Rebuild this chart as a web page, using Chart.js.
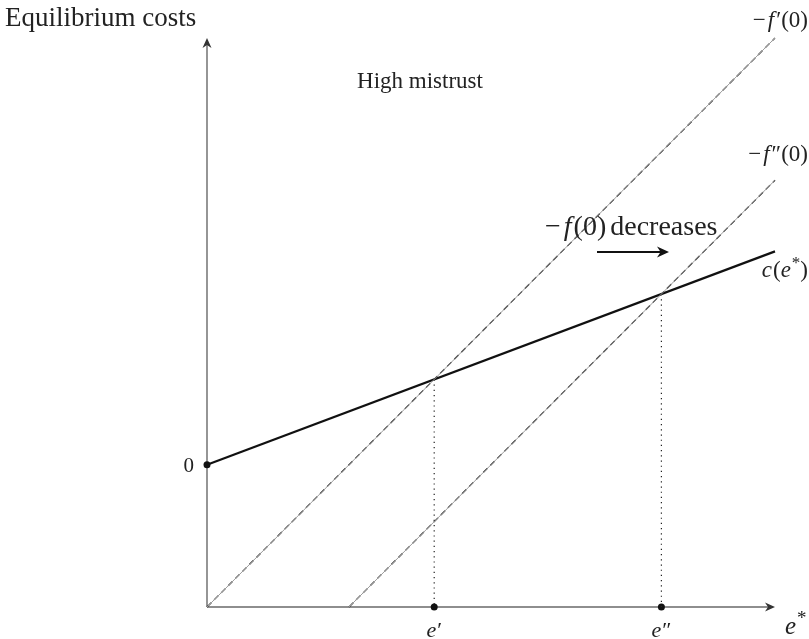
<!DOCTYPE html>
<html>
<head>
<meta charset="utf-8">
<script src="https://cdn.jsdelivr.net/npm/chart.js@4/dist/chart.umd.min.js"></script>
<style>
body { margin: 0; background: #fff; }
</style>
</head>
<body>
<canvas id="graph" width="809" height="639"></canvas>
<script>
// Values in chart units (x = e*, y = equilibrium costs)
var lineHigh = [[0, 0], [10, 10]];        // -f'(0)
var lineLow = [[2.5, 0], [10, 7.5]];      // -f''(0)
var costLine = [[0, 2.5], [10, 6.25]];    // c(e*)
var crossings = [[4, 4], [8, 5.5]];       // where c(e*) meets each dashed line
var crossLabels = ['e′', 'e″'];
var axisMax = [10, 10];

var cvs = document.getElementById('graph');
var ctx = cvs.getContext('2d');

function pts(arr) {
	return arr.map(function (p) { return { x: p[0], y: p[1] }; });
}

var SERIF = '"Liberation Serif", "DejaVu Serif", serif';

// draws a run of pieces: [text, italic, scale, raise, gapAfter]
function rich(c, parts, x, y, size, align) {
	var w = 0;
	parts.forEach(function (p) {
		c.font = (p[1] ? 'italic ' : '') + Math.round(size * (p[2] || 1)) + 'px ' + SERIF;
		p.w = c.measureText(p[0]).width + (p[4] || 0);
		w += p.w;
	});
	var cx = x;
	if (align == 'right') cx = x - w;
	if (align == 'center') cx = x - w / 2;
	c.textAlign = 'left';
	c.textBaseline = 'alphabetic';
	parts.forEach(function (p) {
		c.font = (p[1] ? 'italic ' : '') + Math.round(size * (p[2] || 1)) + 'px ' + SERIF;
		c.fillText(p[0], cx, y - (p[3] || 0));
		cx += p.w;
	});
}

function arrowHead(c, x, y, ang, len) {
	c.save();
	c.translate(x, y);
	c.rotate(ang);
	c.beginPath();
	c.moveTo(0, 0);
	c.lineTo(-len, -len * 0.45);
	c.lineTo(-len * 0.7, 0);
	c.lineTo(-len, len * 0.45);
	c.closePath();
	c.fill();
	c.restore();
}

// axes with arrow heads
var axesPlugin = {
	id: 'axes',
	beforeDatasetsDraw: function (chart) {
		var c = chart.ctx, xs = chart.scales.x, ys = chart.scales.y;
		var x0 = xs.getPixelForValue(0), y0 = ys.getPixelForValue(0);
		var x1 = xs.getPixelForValue(axisMax[0]), y1 = ys.getPixelForValue(axisMax[1]);
		c.save();
		c.strokeStyle = '#6a6a6a';
		c.fillStyle = '#333';
		c.lineWidth = 1.4;
		c.beginPath();
		c.moveTo(x0, y0); c.lineTo(x1 - 3, y0);
		c.moveTo(x0, y0); c.lineTo(x0, y1 + 3);
		c.stroke();
		arrowHead(c, x1, y0, 0, 10);
		arrowHead(c, x0, y1, -Math.PI / 2, 10);
		c.restore();
	}
};

// texts and the "decreases" arrow
var textPlugin = {
	id: 'texts',
	afterDatasetsDraw: function (chart) {
		var c = chart.ctx, xs = chart.scales.x, ys = chart.scales.y;
		c.save();
		c.fillStyle = '#222';
		rich(c, [['Equilibrium costs']], 5, 26, 27, 'left');
		rich(c, [['High mistrust']], 420, 88, 23, 'center');

		var hx = xs.getPixelForValue(lineHigh[1][0]), hy = ys.getPixelForValue(lineHigh[1][1]);
		rich(c, [['−', false, 1, 0, 2], ['f', true, 1, 0, 2], ['′'], ['(0)']], hx + 33, hy - 11, 23, 'right');
		var lx = xs.getPixelForValue(lineLow[1][0]), ly = ys.getPixelForValue(lineLow[1][1]);
		rich(c, [['−', false, 1, 0, 2], ['f', true, 1, 0, 2], ['″'], ['(0)']], lx + 33, ly - 19, 23, 'right');
		var cx = xs.getPixelForValue(costLine[1][0]), cy = ys.getPixelForValue(costLine[1][1]);
		rich(c, [['c', true, 1, 0, 1], ['('], ['e', true, 1, 0, 1], ['*', false, 0.75, 9], [')']], cx + 33, cy + 26, 23, 'right');

		var zx = xs.getPixelForValue(costLine[0][0]), zy = ys.getPixelForValue(costLine[0][1]);
		rich(c, [['0']], zx - 13, zy + 7, 21, 'right');

		crossings.forEach(function (p, i) {
			var px = xs.getPixelForValue(p[0]), py = ys.getPixelForValue(0);
			rich(c, [[crossLabels[i].charAt(0), true, 1, 0, 1], [crossLabels[i].slice(1)]], px, py + 30, 22, 'center');
		});
		var ex = xs.getPixelForValue(axisMax[0]);
		rich(c, [['e', true, 1, 0, 1], ['*', false, 0.75, 10]], ex + 10, ys.getPixelForValue(0) + 27, 25, 'left');

		rich(c, [['−', false, 1, 0, 3], ['f', true, 1, 0, 2], ['(0)', false, 1, 0, 4], ['decreases']], 545, 235, 28, 'left');
		c.strokeStyle = '#111';
		c.fillStyle = '#111';
		c.lineWidth = 2.2;
		c.beginPath();
		c.moveTo(597, 252); c.lineTo(662, 252);
		c.stroke();
		arrowHead(c, 669, 252, 0, 12);
		c.restore();
	}
};

var dashed = { borderColor: '#111', borderWidth: 1.2, borderDash: [6, 4] };
var under = { borderColor: '#9a9a9a', borderWidth: 1 };

function lineSet(data, style) {
	return Object.assign({
		data: pts(data), showLine: true, pointRadius: 0, fill: false, tension: 0, clip: false
	}, style);
}

var dotted = crossings.map(function (p) {
	return lineSet([[p[0], p[1]], [p[0], 0]], { borderColor: '#222', borderWidth: 1.2, borderDash: [1.2, 4] });
});

var dots = [[costLine[0][0], costLine[0][1]]].concat(crossings.map(function (p) { return [p[0], 0]; }));

var chart = new Chart(ctx, {
	type: 'scatter',
	data: {
		datasets: [
			lineSet(lineHigh, under),
			lineSet(lineHigh, dashed),
			lineSet(lineLow, under),
			lineSet(lineLow, dashed),
			lineSet(costLine, { borderColor: '#111', borderWidth: 2.2 })
		].concat(dotted).concat([{
			data: pts(dots), showLine: false, pointRadius: 3.5, pointBackgroundColor: '#111',
			pointBorderWidth: 0, clip: false
		}])
	},
	options: {
		responsive: false,
		animation: false,
		layout: { padding: { left: 207, right: 34, top: 38, bottom: 32 } },
		plugins: { legend: { display: false }, tooltip: { enabled: false } },
		scales: {
			x: { type: 'linear', min: 0, max: axisMax[0], display: false },
			y: { type: 'linear', min: 0, max: axisMax[1], display: false }
		}
	},
	plugins: [axesPlugin, textPlugin]
});
</script>
</body>
</html>
